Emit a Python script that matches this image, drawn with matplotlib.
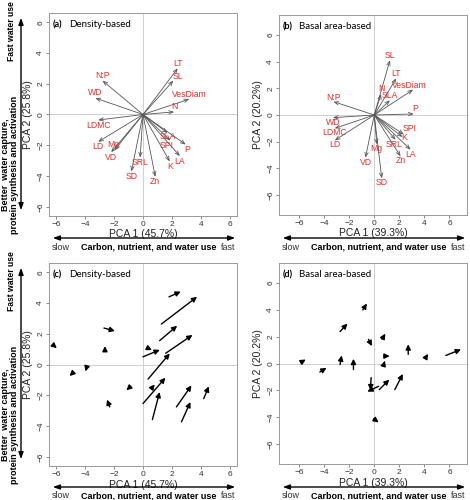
import matplotlib
matplotlib.use("Agg")
import matplotlib.pyplot as plt
import numpy as np

# loadings, panel (a) density-based
labels_a = ['LT', 'SL', 'VesDiam', 'N', 'N:P', 'WD', 'LDMC', 'LD', 'Mg', 'VD',
            'SD', 'SRL', 'Zn', 'K', 'LA', 'P', 'SLA', 'SPI']
pc1_a = [2.4, 2.1, 3.2, 2.15, -2.8, -3.3, -3.1, -3.1, -1.95, -2.2,
         -0.8, -0.2, 0.85, 1.85, 2.55, 2.95, 1.7, 1.9]
pc2_a = [3.0, 2.2, 1.0, 0.17, 2.2, 1.07, -0.36, -1.78, -2.3, -2.45,
         -3.7, -2.8, -4.05, -3.05, -2.7, -1.95, -1.2, -1.7]

# loadings, panel (b) basal area-based
labels_b = ['SL', 'LT', 'VesDiam', 'N', 'SLA', 'N:P', 'P', 'WD', 'LDMC', 'LD',
            'SPI', 'K', 'SRL', 'LA', 'Zn', 'Mg', 'VD', 'SD']
pc1_b = [1.25, 1.75, 3.1, 0.55, 1.25, -3.25, 3.15, -3.3, -3.15, -3.15,
         2.35, 2.25, 1.7, 2.9, 2.1, 0.2, -0.7, 0.6]
pc2_b = [4.1, 2.75, 1.9, 1.55, 1.1, 1.0, 0.08, -0.2, -1.0, -1.9,
         -1.45, -1.65, -1.85, -2.6, -3.1, -2.2, -3.2, -4.75]

# site shifts, panel (c) density-based (start -> end)
c_x0 = [1.8, 1.27, 1.15, 1.57, 0.0, 0.3, 0.35, 0.0, 0.65, 0.58, 2.31, 2.66, 4.2,
        -2.7, -2.63, -6.24, -4.8, -3.88, -0.85, -2.3]
c_y0 = [4.4, 2.63, 1.55, 0.73, 0.5, 1.08, -0.95, -2.54, -3.58, -1.57, -2.76, -3.73, -2.22,
        2.37, 0.86, 1.29, -0.5, -0.13, -1.42, -2.76]
c_x1 = [2.61, 3.74, 2.36, 3.42, 1.16, 0.62, 1.85, 1.55, 1.15, 0.81, 3.35, 3.28, 4.55,
        -1.94, -2.63, -5.96, -5.08, -3.97, -1.15, -2.49]
c_y1 = [4.74, 4.4, 2.52, 1.92, 0.95, 0.94, 0.72, -0.86, -1.79, -1.29, -1.36, -2.44, -1.42,
        2.18, 1.2, 1.06, -0.75, -0.45, -1.68, -2.28]

# site shifts, panel (d) basal area-based
d_x0 = [-0.91, -2.73, 0.62, -0.46, 2.71, 0.75, 0.8, 4.1, 5.71, -5.82, -4.34, -2.73,
        -1.66, -0.25, 0.35, 0.4, 1.64, -0.05]
d_y0 = [4.0, 2.38, 1.8, 1.8, 0.68, 0.55, 0.05, 0.43, 0.6, 0.1, -0.63, -0.08,
        -0.45, -1.05, -1.7, -1.95, -1.95, -4.12]
d_x1 = [-0.59, -2.14, 0.88, -0.19, 2.71, 1.23, 0.85, 4.29, 6.92, -5.47, -3.81, -2.6,
        -1.66, -0.3, -0.55, 1.2, 2.28, 0.35]
d_y1 = [4.48, 2.98, 2.23, 1.3, 1.43, 0.55, 0.2, 0.73, 1.05, 0.3, -0.33, 0.6,
        0.35, -2.0, -2.1, -1.2, -0.78, -4.4]

var_a = ('45.7%', '25.8%')
var_b = ('39.3%', '20.2%')

W, H = 470, 500
fig = plt.figure(figsize=(W / 100, H / 100), dpi=100)
plt.rcParams['font.family'] = ['Liberation Sans', 'DejaVu Sans']

red = '#ee2a2a'


def px_axes(l, t, r, b):
    return fig.add_axes([l / W, 1 - b / H, (r - l) / W, (b - t) / H])


def setup(ax, lim_x, lim_y, var, tag, title):
    ax.set_xlim(*lim_x)
    ax.set_ylim(*lim_y)
    ax.axhline(0, color='#cfcfcf', lw=0.7, zorder=0)
    ax.axvline(0, color='#cfcfcf', lw=0.7, zorder=0)
    ax.set_xticks(np.arange(-6, 7, 2))
    ax.set_yticks(np.arange(-6, 7, 2))
    ax.tick_params(labelsize=6, length=2.5, width=0.6, color='#777777',
                   labelcolor='#333333', pad=1.0)
    plt.setp(ax.get_yticklabels(), rotation=90, va='center')
    for s in ax.spines.values():
        s.set_color('#999999')
        s.set_linewidth(0.7)
    ax.set_xlabel('PCA 1 (%s)' % var[0], fontsize=7.5, color='#222222')
    ax.set_ylabel('PCA 2 (%s)' % var[1], fontsize=7.5, color='#222222')
    h = ax.get_position().height * H
    w = ax.get_position().width * W
    ax.xaxis.set_label_coords(0.5, -13.5 / h)
    ax.yaxis.set_label_coords(-16.0 / w, 0.5)
    ax.text(0.02, 0.965, tag, transform=ax.transAxes, fontsize=6.5, fontweight='bold',
            family='Lato', va='top', ha='left')
    ax.text(0.105, 0.965, title, transform=ax.transAxes, fontsize=7, family='Lato',
            va='top', ha='left')


def loadings(ax, xs, ys, labs, nudge):
    for x, y, lab in zip(xs, ys, labs):
        ax.annotate('', xy=(x, y), xytext=(0, 0),
                    arrowprops=dict(arrowstyle='->,head_length=0.5,head_width=0.2',
                                    color='#555555', lw=0.6, shrinkA=0, shrinkB=0,
                                    mutation_scale=6))
        dx, dy = nudge.get(lab, (0, 0.33 if y >= 0 else -0.33))
        ax.text(x + dx, y + dy, lab, color=red, fontsize=6.2, ha='center', va='center')


def shifts(ax, x0, y0, x1, y1):
    for a, b, c, d in zip(x0, y0, x1, y1):
        ax.annotate('', xy=(c, d), xytext=(a, b),
                    arrowprops=dict(arrowstyle='-|>,head_length=0.6,head_width=0.3',
                                    color='black', lw=1.0, shrinkA=0, shrinkB=0,
                                    mutation_scale=5))


ax_a = px_axes(49, 13, 237, 216)
setup(ax_a, (-6.5, 6.5), (-6.6, 6.6), var_a, '(a)', 'Density-based')
loadings(ax_a, pc1_a, pc2_a, labels_a,
         {'SL': (0.35, 0.3), 'Mg': (-0.1, 0.35), 'SPI': (-0.25, -0.3),
          'SLA': (0.0, -0.25), 'P': (0.1, -0.3)})

ax_b = px_axes(279, 15, 467, 215)
setup(ax_b, (-7.6, 7.4), (-7.5, 7.5), var_b, '(b)', 'Basal area-based')
loadings(ax_b, pc1_b, pc2_b, labels_b,
         {'SPI': (0.45, 0.45), 'VesDiam': (-0.3, 0.3), 'P': (0.15, 0.4),
          'K': (0.1, -0.05), 'SRL': (-0.1, -0.35), 'N': (0.05, 0.45)})

ax_c = px_axes(49, 263, 237, 466)
setup(ax_c, (-6.5, 6.5), (-6.6, 6.6), var_a, '(c)', 'Density-based')
shifts(ax_c, c_x0, c_y0, c_x1, c_y1)

ax_d = px_axes(279, 263, 467, 464)
setup(ax_d, (-7.6, 7.4), (-7.5, 7.5), var_b, '(d)', 'Basal area-based')
shifts(ax_d, d_x0, d_y0, d_x1, d_y1)


def fx(p):
    return p / W


def fy(p):
    return 1 - p / H


# horizontal "slow -> fast" arrows under each panel
for left, right, ya in [(49, 237, 238), (279, 467, 238), (49, 237, 487), (279, 467, 487)]:
    fig.patches.append(matplotlib.patches.FancyArrowPatch(
        (fx(left + 1), fy(ya)), (fx(right + 1), fy(ya)), transform=fig.transFigure,
        arrowstyle='<|-|>,head_length=0.5,head_width=0.18', mutation_scale=8,
        color='black', lw=1.0))
    fig.text(fx(left + 3), fy(ya + 9), 'slow', fontsize=6.5, ha='left', va='center',
             color='#333333')
    fig.text(fx(right - 2), fy(ya + 9), 'fast', fontsize=6.5, ha='right', va='center',
             color='#333333')
    fig.text(fx((left + right) / 2 + 6), fy(ya + 9), 'Carbon, nutrient, and water use',
             fontsize=6.5, fontweight='bold', ha='center', va='center')

# vertical arrows at left
for top, bot in [(15, 213), (265, 462)]:
    fig.patches.append(matplotlib.patches.FancyArrowPatch(
        (fx(21), fy(bot)), (fx(21), fy(top)), transform=fig.transFigure,
        arrowstyle='<|-|>,head_length=0.5,head_width=0.18', mutation_scale=8,
        color='black', lw=1.0))
    fig.text(fx(12), fy(top + 16), 'Fast water use', fontsize=6.2, fontweight='bold',
             rotation=90, ha='center', va='center')
    fig.text(fx(10), fy(top + 150), 'Better  water capture,\nprotein synthesis and activation',
             fontsize=6.5, fontweight='bold', rotation=90, ha='center', va='center',
             multialignment='center', linespacing=1.1)

fig.savefig('out.png', dpi=100)
